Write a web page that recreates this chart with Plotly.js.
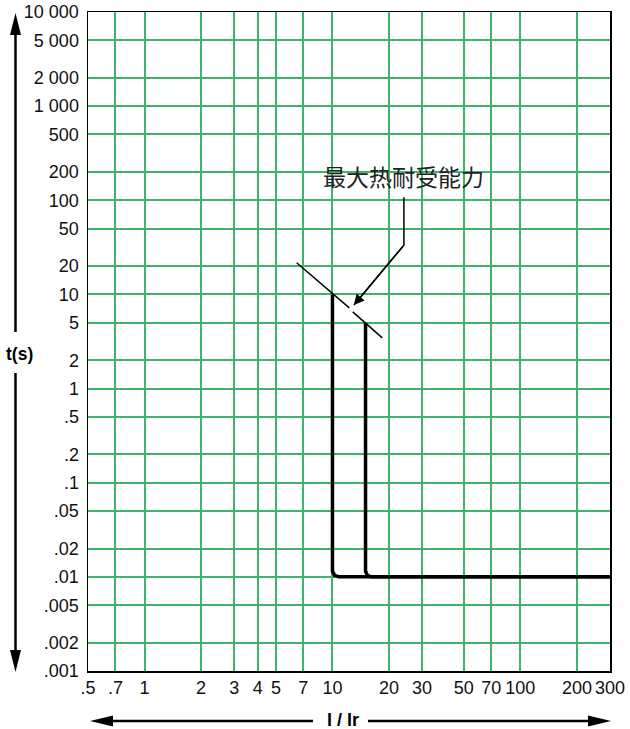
<!DOCTYPE html>
<html>
<head>
<meta charset="utf-8">
<script src="https://cdn.plot.ly/plotly-3.0.1.min.js"></script>
<style>
  body { margin: 0; background: #fff; }
  #chart { width: 630px; height: 729px; }
</style>
</head>
<body>
<div id="chart"></div>
<script>
// tick positions and labels
const xTickVals = [0.5, 0.7, 1, 2, 3, 4, 5, 7, 10, 20, 30, 50, 70, 100, 200, 300];
const xTickText = [".5", ".7", "1", "2", "3", "4", "5", "7", "10", "20", "30", "50", "70", "100", "200", "300"];
const yTickVals = [10000, 5000, 2000, 1000, 500, 200, 100, 50, 20, 10, 5, 2, 1, 0.5, 0.2, 0.1, 0.05, 0.02, 0.01, 0.005, 0.002, 0.001];
const yTickText = ["10 000", "5 000", "2 000", "1 000", "500", "200", "100", "50", "20", "10", "5", "2", "1", ".5", ".2", ".1", ".05", ".02", ".01", ".005", ".002", ".001"];

// trip curves (I/Ir, t in s)
const curve1X = [10, 10, 10.28, 10.84, 300];
const curve1Y = [10, 0.0115, 0.01034, 0.01, 0.01];
const curve2X = [15, 15, 15.33, 16.15, 300];
const curve2Y = [5, 0.0115, 0.01034, 0.01, 0.01];

// max thermal withstand line (broken where the pointer hits it)
const thermalX = [6.45, 12.29, null, 12.82, 18.42];
const thermalY = [21.7, 7.2, null, 6.53, 3.46];

// pointer from the label to the line
const pointerX = [24, 24, 13.0];
const pointerY = [108, 33.4, 7.7];
const labelText = "最大热耐受能力";

// plot box in pixels, used to place the decorations outside the axes
const L = 88, R = 610, T = 12, B = 671;
const px = x => (x - L) / (R - L);
const py = y => (B - y) / (B - T);

const font = "Liberation Sans, Arial, Helvetica, sans-serif";
const grid = "#3db46a";

const traces = [
  { x: curve1X, y: curve1Y, mode: "lines", line: { color: "#000", width: 3.5 }, hoverinfo: "skip" },
  { x: curve2X, y: curve2Y, mode: "lines", line: { color: "#000", width: 3.5 }, hoverinfo: "skip" },
  { x: thermalX, y: thermalY, mode: "lines", line: { color: "#000", width: 1.5 }, hoverinfo: "skip" },
  { x: pointerX, y: pointerY, mode: "lines", line: { color: "#000", width: 1.5 }, hoverinfo: "skip" }
];

const n = pointerX.length;
const annotations = [
  {
    // arrow head on the last pointer segment
    x: Math.log10(pointerX[n - 1]), y: Math.log10(pointerY[n - 1]),
    ax: Math.log10(pointerX[n - 2]), ay: Math.log10(pointerY[n - 2]),
    axref: "x", ayref: "y", xref: "x", yref: "y",
    text: "", showarrow: true, arrowhead: 2, arrowsize: 1.4, arrowwidth: 1.5, arrowcolor: "#000"
  },
  {
    x: Math.log10(pointerX[0]), y: Math.log10(pointerY[0]), xref: "x", yref: "y",
    text: labelText, showarrow: false, xanchor: "center", yanchor: "bottom", yshift: 2,
    font: { family: "Noto Sans CJK SC", size: 23, color: "#222" }
  },
  {
    x: px(19.5), y: py(354), xref: "paper", yref: "paper", text: "t(s)", showarrow: false,
    xanchor: "center", yanchor: "middle", font: { family: font, size: 17.5, color: "#000", weight: "bold" }
  },
  {
    x: px(343), y: py(720), xref: "paper", yref: "paper", text: "I / Ir", showarrow: false,
    xanchor: "center", yanchor: "middle", font: { family: font, size: 18, color: "#000", weight: "bold" }
  }
];

const arrowLine = { color: "#000", width: 2.5 };
const shapes = [
  // vertical t axis arrow
  { type: "line", xref: "paper", yref: "paper", x0: px(15.5), x1: px(15.5), y0: py(34), y1: py(332), line: arrowLine },
  { type: "line", xref: "paper", yref: "paper", x0: px(15.5), x1: px(15.5), y0: py(373), y1: py(651), line: arrowLine },
  { type: "path", xref: "paper", yref: "paper", fillcolor: "#000", line: { width: 0 },
    path: `M${px(15.5)},${py(13)} L${px(10)},${py(35)} L${px(21)},${py(35)} Z` },
  { type: "path", xref: "paper", yref: "paper", fillcolor: "#000", line: { width: 0 },
    path: `M${px(15.5)},${py(672)} L${px(10)},${py(650)} L${px(21)},${py(650)} Z` },
  // horizontal I/Ir arrow
  { type: "line", xref: "paper", yref: "paper", x0: px(112), x1: px(313), y0: py(721), y1: py(721), line: arrowLine },
  { type: "line", xref: "paper", yref: "paper", x0: px(368), x1: px(589), y0: py(721), y1: py(721), line: arrowLine },
  { type: "path", xref: "paper", yref: "paper", fillcolor: "#000", line: { width: 0 },
    path: `M${px(90)},${py(721)} L${px(113)},${py(715.5)} L${px(113)},${py(726.5)} Z` },
  { type: "path", xref: "paper", yref: "paper", fillcolor: "#000", line: { width: 0 },
    path: `M${px(611)},${py(721)} L${px(588)},${py(715.5)} L${px(588)},${py(726.5)} Z` }
];

const layout = {
  width: 630,
  height: 729,
  margin: { l: L, r: 630 - R, t: T, b: 729 - B },
  paper_bgcolor: "#fff",
  plot_bgcolor: "#fff",
  showlegend: false,
  font: { family: font, size: 18, color: "#111" },
  xaxis: {
    type: "log",
    range: [Math.log10(0.5), Math.log10(300)],
    tickvals: xTickVals, ticktext: xTickText,
    ticks: "", ticklabelstandoff: 0,
    showgrid: true, gridcolor: grid, gridwidth: 2,
    showline: true, linecolor: "#000", linewidth: 1.5, mirror: true,
    zeroline: false, fixedrange: true
  },
  yaxis: {
    type: "log",
    range: [-3, 4],
    tickvals: yTickVals, ticktext: yTickText,
    ticks: "", ticklabelstandoff: 4,
    showgrid: true, gridcolor: grid, gridwidth: 2,
    showline: true, linecolor: "#000", linewidth: 1.5, mirror: true,
    zeroline: false, fixedrange: true
  },
  annotations: annotations,
  shapes: shapes
};

Plotly.newPlot("chart", traces, layout, { displayModeBar: false, staticPlot: true });
</script>
</body>
</html>
